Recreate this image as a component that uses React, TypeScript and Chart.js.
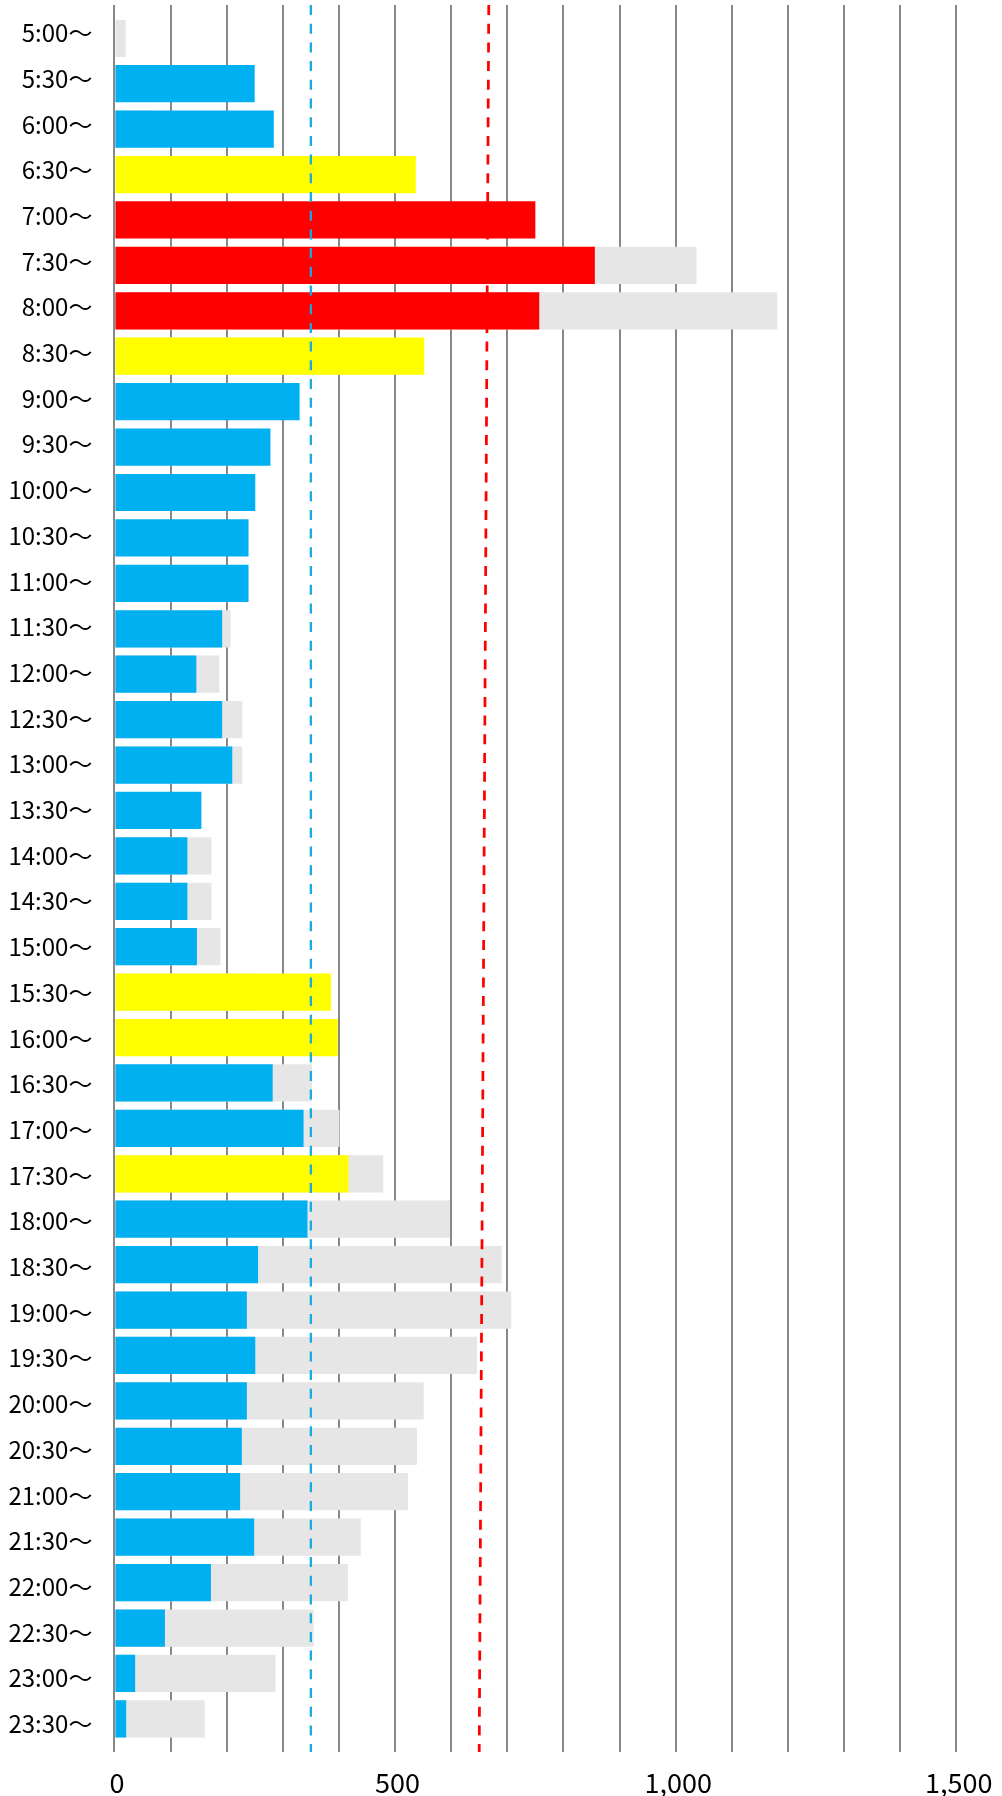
import React, { useEffect, useRef } from 'react';
import { Chart, registerables } from 'chart.js';

Chart.register(...registerables);

// Time slots (categories), top to bottom
const TIME_LABELS = [
  '5:00〜', '5:30〜', '6:00〜', '6:30〜', '7:00〜', '7:30〜', '8:00〜', '8:30〜',
  '9:00〜', '9:30〜', '10:00〜', '10:30〜', '11:00〜', '11:30〜', '12:00〜', '12:30〜',
  '13:00〜', '13:30〜', '14:00〜', '14:30〜', '15:00〜', '15:30〜', '16:00〜', '16:30〜',
  '17:00〜', '17:30〜', '18:00〜', '18:30〜', '19:00〜', '19:30〜', '20:00〜', '20:30〜',
  '21:00〜', '21:30〜', '22:00〜', '22:30〜', '23:00〜', '23:30〜',
];

// Coloured (current) values
const CURRENT_VALUES = [
  0, 250, 284, 537, 750, 856, 757, 552,
  330, 278, 251, 239, 239, 192, 146, 192,
  210, 155, 130, 130, 147, 386, 398, 282,
  337, 417, 344, 256, 236, 251, 236, 227,
  224, 249, 172, 90, 37, 21,
];

// Grey (background) values
const GREY_VALUES = [
  20, 0, 65, 0, 0, 1037, 1181, 439,
  0, 0, 0, 0, 0, 207, 187, 228,
  228, 0, 173, 173, 189, 252, 0, 352,
  401, 479, 598, 690, 707, 646, 551, 539,
  523, 439, 416, 355, 287, 161,
];

// Dashed reference lines: x value at top and at bottom of the plot
const BLUE_LINE_X = [350, 350];
const RED_LINE_X = [667, 650];
const LINE_Y = [0, 1];

// Colour thresholds
const MID_THRESHOLD = 350;
const HIGH_THRESHOLD = 650;

// X axis tick labels
const X_TICK_VALUES = [0, 500, 1000, 1500];
const X_TICK_LABELS = ['0', '500', '1,000', '1,500'];

const COLOR_LOW = '#00B0F0';
const COLOR_MID = '#FFFF00';
const COLOR_HIGH = '#FF0000';
const COLOR_GREY = '#E6E6E6';
const GRID_COLOR = '#888888';
const FONT = '"Noto Sans CJK JP", "Noto Sans", sans-serif';

export default function App() {
  const ref = useRef<HTMLCanvasElement>(null);

  useEffect(() => {
    const canvas = ref.current;
    if (!canvas) return;

    const barColors = CURRENT_VALUES.map((v) =>
      v >= HIGH_THRESHOLD ? COLOR_HIGH : v >= MID_THRESHOLD ? COLOR_MID : COLOR_LOW
    );

    const chart = new Chart(canvas, {
      type: 'bar',
      data: {
        datasets: [
          {
            type: 'line',
            label: 'red',
            data: RED_LINE_X.map((x, i) => ({ x, y: LINE_Y[i] })),
            xAxisID: 'x',
            yAxisID: 'yRef',
            borderColor: '#FF0000',
            borderWidth: 2.75,
            borderDash: [10, 8.7],
            pointRadius: 0,
            fill: false,
            tension: 0,
          } as any,
          {
            type: 'line',
            label: 'blue',
            data: BLUE_LINE_X.map((x, i) => ({ x, y: LINE_Y[i] })),
            xAxisID: 'x',
            yAxisID: 'yRef',
            borderColor: '#12ABE3',
            borderWidth: 2.25,
            borderDash: [10, 8.7],
            pointRadius: 0,
            fill: false,
            tension: 0,
          } as any,
          {
            type: 'bar',
            label: 'current',
            data: CURRENT_VALUES.map((x, i) => ({ x, y: i })),
            backgroundColor: barColors,
            xAxisID: 'x',
            yAxisID: 'yBar',
            grouped: false,
            categoryPercentage: 1,
            barPercentage: 0.82,
            borderWidth: 0,
          } as any,
          {
            type: 'bar',
            label: 'grey',
            data: GREY_VALUES.map((x, i) => ({ x, y: i })),
            backgroundColor: COLOR_GREY,
            xAxisID: 'x',
            yAxisID: 'yBar',
            grouped: false,
            categoryPercentage: 1,
            barPercentage: 0.82,
            borderWidth: 0,
          } as any,
        ],
      },
      options: {
        indexAxis: 'y',
        animation: false,
        responsive: true,
        maintainAspectRatio: false,
        layout: { padding: { top: 5, right: 45.7, bottom: 0, left: 0 } },
        plugins: { legend: { display: false }, tooltip: { enabled: false } },
        scales: {
          x: {
            type: 'linear',
            position: 'bottom',
            min: 0,
            max: 1500,
            offset: false,
            grid: { color: GRID_COLOR, lineWidth: 2, drawTicks: false },
            border: { display: false },
            ticks: {
              stepSize: 100,
              autoSkip: false,
              maxRotation: 0,
              padding: 17,
              labelOffset: 2.5,
              color: '#000',
              font: { family: FONT, size: 27, lineHeight: 1 },
              callback: (v: any) => {
                const k = X_TICK_VALUES.indexOf(Number(v));
                return k >= 0 ? X_TICK_LABELS[k] : '';
              },
            },
            afterFit: (s: any) => {
              s.height = 44;
              s.paddingLeft = 0;
              s.paddingRight = 0;
            },
          },
          yLab: {
            type: 'linear',
            position: 'left',
            reverse: true,
            offset: false,
            min: -0.6127,
            max: 37.615,
            grid: { display: false, drawTicks: false },
            border: { display: false },
            ticks: {
              stepSize: 1,
              includeBounds: false,
              autoSkip: false,
              padding: 22,
              color: '#000',
              font: { family: FONT, size: 24 },
              callback: (v: any) => TIME_LABELS[Number(v)] ?? '',
            },
            afterFit: (s: any) => {
              s.width = 114.4;
              s.paddingTop = 0;
              s.paddingBottom = 0;
            },
          },
          yBar: {
            type: 'linear',
            display: false,
            reverse: true,
            offset: false,
            min: -0.7332,
            max: 37.73,
            ticks: { stepSize: 1, includeBounds: false },
          },
          yRef: {
            type: 'linear',
            display: false,
            reverse: true,
            offset: false,
            min: 0,
            max: 1,
          },
        },
      } as any,
    });

    return () => chart.destroy();
  }, []);

  return (
    <div style={{ position: 'absolute', left: 0, top: 0, width: 1002, height: 1796 }}>
      <canvas ref={ref} />
    </div>
  );
}
